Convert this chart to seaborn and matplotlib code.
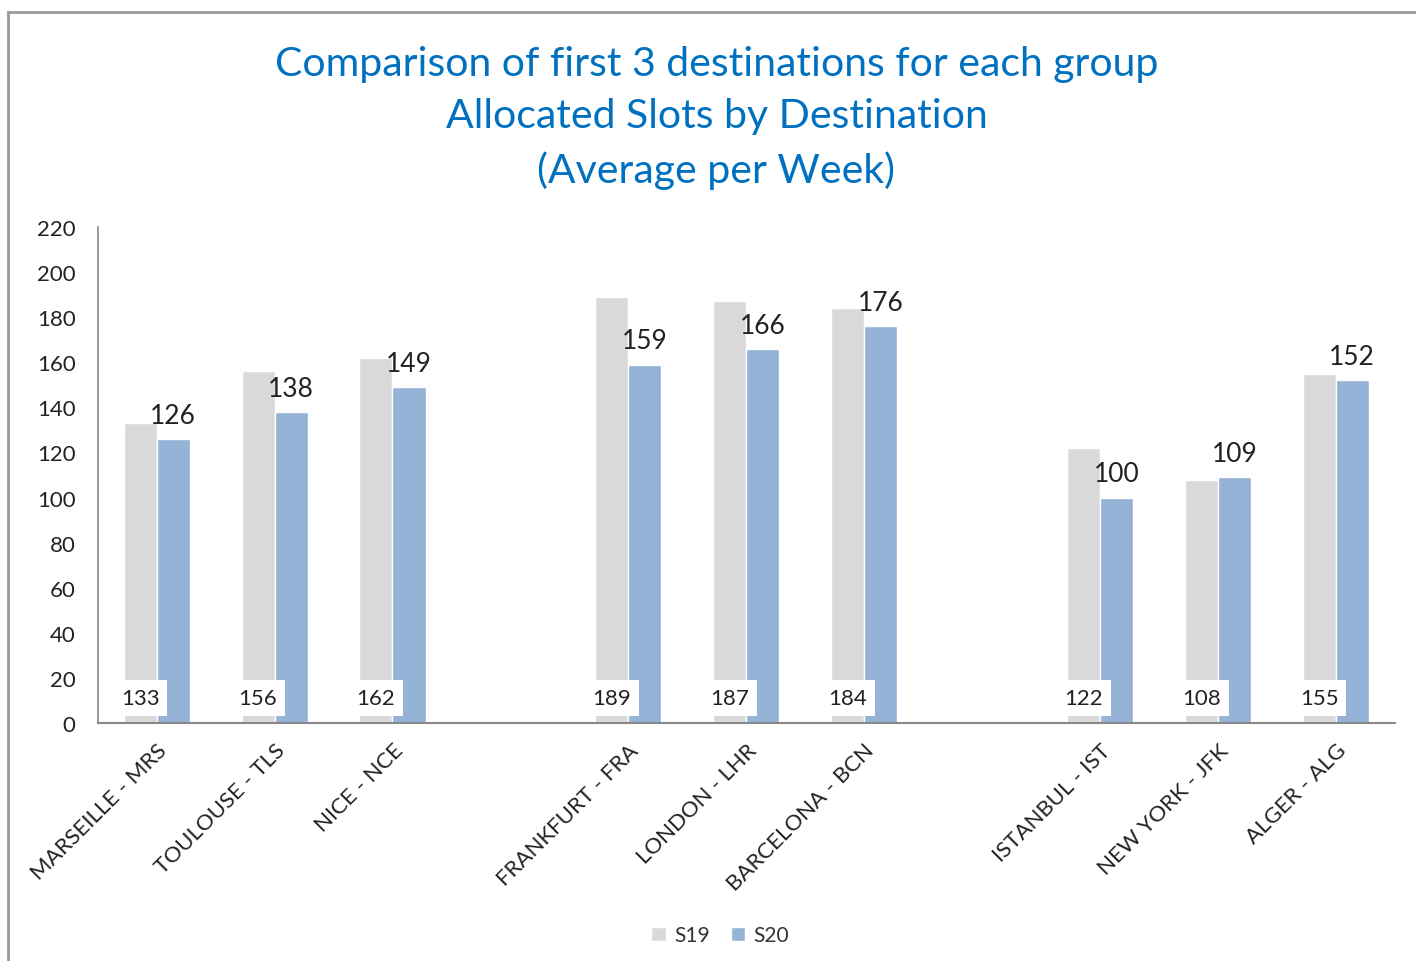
import pandas as pd
import matplotlib
matplotlib.use("Agg")
import matplotlib.pyplot as plt
import seaborn as sns
from matplotlib.patches import Rectangle

# Datos del gráfico
destinos = ["MARSEILLE - MRS", "TOULOUSE - TLS", "NICE - NCE",
            "FRANKFURT - FRA", "LONDON - LHR", "BARCELONA - BCN",
            "ISTANBUL - IST", "NEW YORK - JFK", "ALGER - ALG"]
s19 = [133, 156, 162, 189, 187, 184, 122, 108, 155]
s20 = [126, 138, 149, 159, 166, 176, 100, 109, 152]
# huecos entre los grupos
orden = destinos[:3] + [""] + destinos[3:6] + [" "] + destinos[6:]

df = pd.DataFrame({
    "destino": destinos * 2,
    "temporada": ["S19"] * len(destinos) + ["S20"] * len(destinos),
    "slots": s19 + s20,
})

sns.set_style("white")
plt.rcParams["font.family"] = ["Lato", "DejaVu Sans"]

fig = plt.figure(figsize=(14.16, 9.62), dpi=100)
ax = fig.add_axes([0.069, 0.2474, 0.916, 0.5156])

sns.barplot(data=df, x="destino", y="slots", hue="temporada", order=orden,
            hue_order=["S19", "S20"], palette=["#D9D9D9", "#95B3D7"],
            width=0.56, saturation=1, ax=ax, zorder=2)

ax.set_ylim(0, 220)
ax.set_yticks(range(0, 221, 20))
ax.set_xlim(-0.5, len(orden) - 0.5)
ax.set_xlabel("")
ax.set_ylabel("")
ax.tick_params(axis="y", labelsize=16, colors="#222222", length=0, pad=16)
ax.tick_params(axis="x", length=0, pad=12)
ax.set_xticks(range(len(orden)))
ax.set_xticklabels(orden, rotation=45, ha="right", rotation_mode="anchor",
                   fontsize=16, color="#222222")

for lado in ["top", "right"]:
    ax.spines[lado].set_visible(False)
ax.spines["left"].set_color("#888888")
ax.spines["bottom"].set_color("#888888")
ax.spines["left"].set_linewidth(1.2)
ax.spines["bottom"].set_linewidth(1.5)

# Etiquetas S19 abajo en caja blanca
for barra in ax.containers[0]:
    h = barra.get_height()
    if h > 0:
        ax.text(barra.get_x() + barra.get_width() / 2, 11, f"{h:.0f}",
                ha="center", va="center", fontsize=16, color="#222222",
                zorder=5, bbox=dict(boxstyle="square,pad=0.35", fc="white", ec="none"))

# Etiquetas S20 encima de la barra
for barra in ax.containers[1]:
    h = barra.get_height()
    if h > 0:
        ax.annotate(f"{h:.0f}", (barra.get_x() + barra.get_width() / 2, h),
                    xytext=(0, 8), textcoords="offset points",
                    ha="center", va="bottom", fontsize=19, color="#222222")

ax.legend(loc="upper center", bbox_to_anchor=(0.48, -0.37), ncol=2, frameon=False,
          fontsize=15, handlelength=0.7, handleheight=0.7, handletextpad=0.4,
          columnspacing=1.0, labelcolor="#333333")

fig.text(0.506, 0.952,
         "Comparison of first 3 destinations for each group\n"
         "Allocated Slots by Destination\n(Average per Week)",
         ha="center", va="top", fontsize=29.5, color="#0070C0", linespacing=1.5)

# Marco gris del gráfico
fig.patches.append(Rectangle((8 / 1416, -0.1), 1.2, 1.1 - 13 / 962,
                             transform=fig.transFigure, fill=False,
                             ec="#999999", lw=2, clip_on=False))

fig.savefig("out.png", dpi=100)
